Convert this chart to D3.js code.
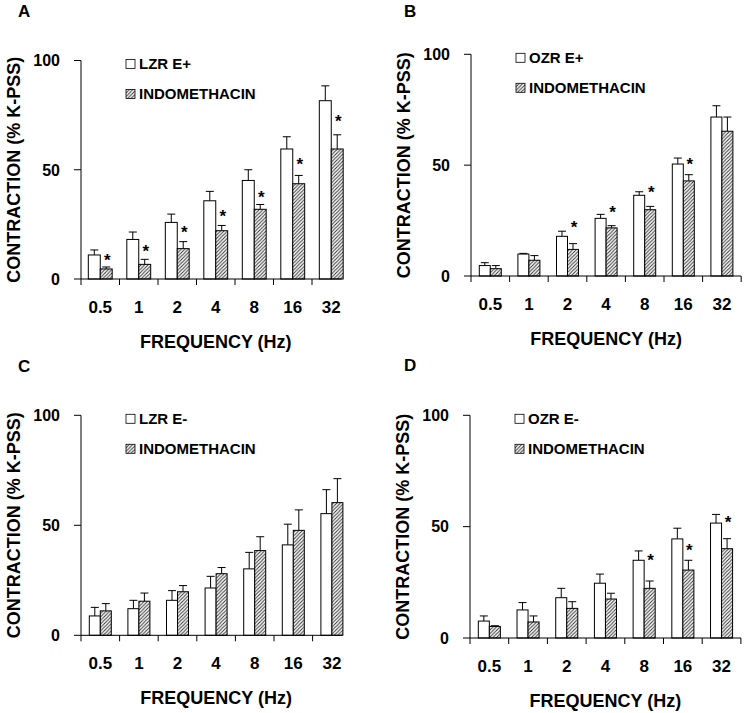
<!DOCTYPE html>
<html lang="en">
<head>
    <meta charset="UTF-8">
    <title>Contraction vs Frequency</title>
    <style>
        body {
            margin: 0;
            background: #fff;
            font-family: "Liberation Sans", Arial, sans-serif;
        }
        text {
            font-weight: bold;
            fill: #000;
        }
        .axis-line, .tick-mark {
            stroke: #000;
            stroke-width: 1;
        }
        .bar {
            stroke: #000;
            stroke-width: 1;
        }
        .err {
            stroke: #000;
            stroke-width: 1;
            fill: none;
        }
    </style>
</head>
<body>
    <div id="chart"></div>

    <script src="https://d3js.org/d3.v7.min.js"></script>
    <script>
        // frequency categories (Hz)
        var freqLabels = ["0.5", "1", "2", "4", "8", "16", "32"];

        // panel A - LZR E+
        var aCtrl = [11.0, 18.1, 25.9, 35.8, 45.1, 59.5, 81.6];
        var aCtrlErr = [2.3, 3.4, 3.8, 4.3, 4.9, 5.6, 6.8];
        var aIndo = [4.6, 6.7, 13.9, 22.1, 31.9, 43.6, 59.5];
        var aIndoErr = [0.9, 2.3, 3.2, 2.4, 2.2, 3.8, 6.5];
        var aStars = [10.2, 14.0, 22.7, 30.3, 38.9, 54.1, 73.9];

        // panel B - OZR E+
        var bCtrl = [4.7, 9.9, 17.9, 26.0, 36.4, 50.5, 71.7];
        var bCtrlErr = [1.3, 0.3, 2.3, 1.8, 1.6, 2.7, 5.1];
        var bIndo = [3.3, 7.1, 12.0, 21.7, 29.9, 42.9, 65.3];
        var bIndoErr = [1.4, 2.1, 2.6, 1.0, 1.5, 2.8, 6.4];
        var bStars = [null, null, 23.5, 30.1, 39.2, 51.7, null];

        // panel C - LZR E-
        var cCtrl = [8.8, 12.1, 15.9, 21.5, 30.2, 41.1, 55.3];
        var cCtrlErr = [3.9, 3.8, 4.4, 5.3, 7.5, 9.4, 10.9];
        var cIndo = [11.1, 15.5, 19.8, 28.0, 38.5, 47.7, 60.3];
        var cIndoErr = [3.3, 3.7, 2.8, 2.8, 6.3, 9.3, 10.9];
        var cStars = [null, null, null, null, null, null, null];

        // panel D - OZR E-
        var dCtrl = [7.6, 12.6, 18.1, 24.6, 34.9, 44.5, 51.6];
        var dCtrlErr = [2.3, 3.3, 4.2, 4.1, 4.2, 4.8, 3.9];
        var dIndo = [5.2, 7.2, 13.3, 17.5, 22.3, 30.5, 40.1];
        var dIndoErr = [0.3, 2.7, 3.0, 2.6, 3.3, 4.4, 4.5];
        var dStars = [null, null, null, null, 36.4, 40.7, 53.4];

        var yTicks = [0, 50, 100];
        var indoLabel = "INDOMETHACIN";
        var yTitle = "CONTRACTION (% K-PSS)";
        var xTitle = "FREQUENCY (Hz)";

        var width = 745,
            height = 713;

        var svg = d3.select("#chart").append("svg")
            .attr("width", width)
            .attr("height", height);

        // hatch pattern for indomethacin bars
        var defs = svg.append("defs");
        var pat = defs.append("pattern")
            .attr("id", "hatch")
            .attr("patternUnits", "userSpaceOnUse")
            .attr("width", 3.5)
            .attr("height", 3.5);
        pat.append("rect")
            .attr("width", 3.5)
            .attr("height", 3.5)
            .attr("fill", "#fff");
        pat.append("path")
            .attr("d", "M0,3.5 L3.5,0 M-1,1 L1,-1 M2.5,4.5 L4.5,2.5")
            .attr("stroke", "#333")
            .attr("stroke-width", 1);

        var panels = [
            {letter: "A", name: "LZR E+", ctrl: aCtrl, ctrlErr: aCtrlErr, indo: aIndo, indoErr: aIndoErr, stars: aStars,
             ax: 81, y0: 279, y100: 60.5, band: 38.5, barFrac: 0.31, axisEnd: 341.5, endTick: false,
             lx: 18, ly: 17},
            {letter: "B", name: "OZR E+", ctrl: bCtrl, ctrlErr: bCtrlErr, indo: bIndo, indoErr: bIndoErr, stars: bStars,
             ax: 471, y0: 276, y100: 54.3, band: 38.6, barFrac: 0.285, axisEnd: 741, endTick: true,
             lx: 404, ly: 17},
            {letter: "C", name: "LZR E-", ctrl: cCtrl, ctrlErr: cCtrlErr, indo: cIndo, indoErr: cIndoErr, stars: cStars,
             ax: 81, y0: 635.3, y100: 415.3, band: 38.6, barFrac: 0.285, axisEnd: 341.5, endTick: false,
             lx: 18, ly: 372},
            {letter: "D", name: "OZR E-", ctrl: dCtrl, ctrlErr: dCtrlErr, indo: dIndo, indoErr: dIndoErr, stars: dStars,
             ax: 470, y0: 638, y100: 415.3, band: 38.7, barFrac: 0.285, axisEnd: 741, endTick: true,
             lx: 404, ly: 371}
        ];

        panels.forEach(drawPanel);

        function drawPanel(p) {
            var g = svg.append("g");

            var x = d3.scaleBand()
                .domain(freqLabels)
                .range([p.ax, p.ax + p.band * freqLabels.length]);
            var y = d3.scaleLinear()
                .domain([0, 100])
                .range([p.y0, p.y100]);

            var bw = x.bandwidth() * p.barFrac;
            var off = (x.bandwidth() - 2 * bw) / 2;

            var rows = freqLabels.map(function(f, i) {
                return {f: f, ctrl: p.ctrl[i], ctrlErr: p.ctrlErr[i],
                        indo: p.indo[i], indoErr: p.indoErr[i], star: p.stars[i]};
            });

            // error bars (upward only), drawn before the bars
            function errBar(sel, xOff, key, errKey) {
                sel.append("path")
                    .attr("class", "err")
                    .attr("d", function(d) {
                        var cx = x(d.f) + xOff + bw / 2;
                        var top = y(d[key] + d[errKey]);
                        return "M" + cx + "," + y(d[key]) + "V" + top +
                            "M" + (cx - 4) + "," + top + "H" + (cx + 4);
                    });
            }

            var grp = g.selectAll("g.freq")
                .data(rows)
                .enter().append("g")
                .attr("class", "freq");

            errBar(grp, off, "ctrl", "ctrlErr");
            errBar(grp, off + bw, "indo", "indoErr");

            grp.append("rect")
                .attr("class", "bar")
                .attr("x", function(d) { return x(d.f) + off; })
                .attr("y", function(d) { return y(d.ctrl); })
                .attr("width", bw)
                .attr("height", function(d) { return y(0) - y(d.ctrl); })
                .attr("fill", "#fff");

            grp.append("rect")
                .attr("class", "bar")
                .attr("x", function(d) { return x(d.f) + off + bw; })
                .attr("y", function(d) { return y(d.indo); })
                .attr("width", bw)
                .attr("height", function(d) { return y(0) - y(d.indo); })
                .attr("fill", "url(#hatch)");

            // significance stars
            grp.filter(function(d) { return d.star != null; })
                .append("text")
                .attr("x", function(d) { return x(d.f) + off + bw * 1.5 + 1; })
                .attr("y", function(d) { return y(d.star) + 9; })
                .attr("text-anchor", "middle")
                .style("font-size", "17px")
                .text("*");

            // y axis
            g.append("line")
                .attr("class", "axis-line")
                .attr("x1", p.ax).attr("x2", p.ax)
                .attr("y1", y(0)).attr("y2", y(100));
            g.selectAll("line.ytick")
                .data(yTicks)
                .enter().append("line")
                .attr("class", "tick-mark")
                .attr("x1", p.ax - 7).attr("x2", p.ax)
                .attr("y1", function(d) { return y(d); })
                .attr("y2", function(d) { return y(d); });
            g.selectAll("text.ylab")
                .data(yTicks)
                .enter().append("text")
                .attr("x", p.ax - 21)
                .attr("y", function(d) { return y(d); })
                .attr("dy", "0.36em")
                .attr("text-anchor", "end")
                .style("font-size", "16px")
                .text(function(d) { return d; });

            // x axis
            g.append("line")
                .attr("class", "axis-line")
                .attr("x1", p.ax).attr("x2", p.axisEnd)
                .attr("y1", y(0)).attr("y2", y(0));
            var tickPos = freqLabels.map(function(f) { return x(f); });
            if (p.endTick) tickPos.push(x.range()[1]);
            g.selectAll("line.xtick")
                .data(tickPos)
                .enter().append("line")
                .attr("class", "tick-mark")
                .attr("x1", function(d) { return d; })
                .attr("x2", function(d) { return d; })
                .attr("y1", y(0)).attr("y2", y(0) + 6);
            g.selectAll("text.xlab")
                .data(freqLabels)
                .enter().append("text")
                .attr("x", function(d) { return x(d) + x.bandwidth() / 2; })
                .attr("y", y(0) + 34)
                .attr("text-anchor", "middle")
                .style("font-size", "17px")
                .text(function(d) { return d; });

            // axis titles
            g.append("text")
                .attr("x", (x.range()[0] + x.range()[1]) / 2)
                .attr("y", y(0) + 69)
                .attr("text-anchor", "middle")
                .style("font-size", "18px")
                .text(xTitle);
            g.append("text")
                .attr("transform", "translate(" + (p.ax - 61) + "," + ((y(0) + y(100)) / 2) + ") rotate(-90)")
                .attr("text-anchor", "middle")
                .style("font-size", "18px")
                .text(yTitle);

            // panel letter
            g.append("text")
                .attr("x", p.lx)
                .attr("y", p.ly)
                .style("font-size", "17px")
                .text(p.letter);

            // legend
            var lx = p.ax + 45, ly = y(100) - 1;
            var legend = [{label: p.name, fill: "#fff"}, {label: indoLabel, fill: "url(#hatch)"}];
            var lg = g.selectAll("g.leg")
                .data(legend)
                .enter().append("g")
                .attr("transform", function(d, i) { return "translate(" + lx + "," + (ly + i * 30) + ")"; });
            lg.append("rect")
                .attr("width", 9)
                .attr("height", 9)
                .attr("fill", function(d) { return d.fill; })
                .attr("stroke", "#000")
                .attr("stroke-width", 0.8);
            lg.append("text")
                .attr("x", 13)
                .attr("y", 9.5)
                .style("font-size", "15px")
                .text(function(d) { return d.label; });
        }
    </script>
</body>
</html>
